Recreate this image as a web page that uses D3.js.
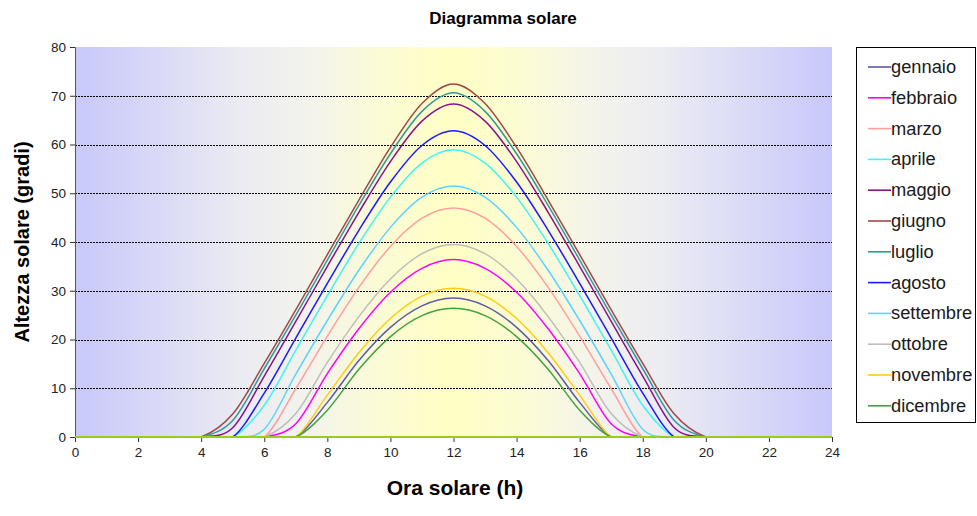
<!DOCTYPE html>
<html>
<head>
<meta charset="utf-8">
<script src="https://cdn.jsdelivr.net/npm/d3@7"></script>
<style>
  body { margin: 0; background: #fff; }
  svg { display: block; font-family: "Liberation Sans", Arial, sans-serif; }
</style>
</head>
<body>
<svg id="chart" width="977" height="516"></svg>
<script>
// Solar hour (0..24), one sample per hour
const hours = d3.range(0, 25);

const months = ["gennaio", "febbraio", "marzo", "aprile", "maggio", "giugno",
                "luglio", "agosto", "settembre", "ottobre", "novembre", "dicembre"];

const colors = ["#5c5ca3", "#ff00ff", "#ff9f9f", "#3cf5f5", "#8a128a", "#a04848",
                "#339999", "#1a1aff", "#5cd3ff", "#bdbdbd", "#ffcc11", "#44a044"];

// Solar altitude (degrees) for each hour 0..24
const gennaio   = [0,0,0,0,0,0,0,0, 7.1,15.7,22.5,26.9,28.5,26.9,22.5,15.7, 7.1,0,0,0,0,0,0,0,0];
const febbraio  = [0,0,0,0,0,0,0,2.7,13.0,22.2,29.7,34.6,36.4,34.6,29.7,22.2,13.0,2.7,0,0,0,0,0,0,0];
const marzo     = [0,0,0,0,0,0,0,9.9,20.7,30.7,39.1,44.9,47.0,44.9,39.1,30.7,20.7,9.9,0,0,0,0,0,0,0];
const aprile    = [0,0,0,0,0,0,6.5,17.8,29.0,39.7,49.2,56.2,58.9,56.2,49.2,39.7,29.0,17.8,6.5,0,0,0,0,0,0];
const maggio    = [0,0,0,0,0,1.9,12.5,23.7,35.0,46.1,56.5,64.8,68.3,64.8,56.5,46.1,35.0,23.7,12.5,1.9,0,0,0,0,0];
const giugno    = [0,0,0,0,0,4.7,15.1,26.1,37.4,48.6,59.4,68.4,72.4,68.4,59.4,48.6,37.4,26.1,15.1,4.7,0,0,0,0,0];
const luglio    = [0,0,0,0,0,3.4,14.0,25.0,36.3,47.5,58.1,66.8,70.6,66.8,58.1,47.5,36.3,25.0,14.0,3.4,0,0,0,0,0];
const agosto    = [0,0,0,0,0,0,9.0,20.3,31.5,42.4,52.3,59.8,62.8,59.8,52.3,42.4,31.5,20.3,9.0,0,0,0,0,0,0];
const settembre = [0,0,0,0,0,0,1.6,12.9,23.9,34.2,43.0,49.2,51.5,49.2,43.0,34.2,23.9,12.9,1.6,0,0,0,0,0,0];
const ottobre   = [0,0,0,0,0,0,0,4.8,15.3,24.7,32.4,37.6,39.5,37.6,32.4,24.7,15.3,4.8,0,0,0,0,0,0,0];
const novembre  = [0,0,0,0,0,0,0,0, 8.6,17.3,24.3,28.9,30.5,28.9,24.3,17.3, 8.6,0,0,0,0,0,0,0,0];
const dicembre  = [0,0,0,0,0,0,0,0, 5.5,13.9,20.6,24.9,26.4,24.9,20.6,13.9, 5.5,0,0,0,0,0,0,0,0];

const seriesValues = [gennaio, febbraio, marzo, aprile, maggio, giugno,
                      luglio, agosto, settembre, ottobre, novembre, dicembre];

const xTicks = d3.range(0, 25, 2);
const yTicks = d3.range(0, 81, 10);

const svg = d3.select("#chart");
const plot = { left: 75, top: 47, right: 832, bottom: 437 };

const x = d3.scaleLinear().domain([0, 24]).range([plot.left, plot.right]);
const y = d3.scaleLinear().domain([0, 80]).range([plot.bottom, plot.top]);

// Horizontal background gradient: lavender edges, pale yellow at noon
const defs = svg.append("defs");
const grad = defs.append("linearGradient").attr("id", "bg")
  .attr("x1", "0%").attr("x2", "100%").attr("y1", "0%").attr("y2", "0%");
[[0, "#c8c8fb"], [0.22, "#ebebf3"], [0.32, "#f4f4ea"], [0.4, "#fbfbd6"], [0.5, "#ffffc4"],
 [0.6, "#fbfbd6"], [0.68, "#f4f4ea"], [0.78, "#ebebf3"], [1, "#c8c8fb"]]
  .forEach(([o, c]) => grad.append("stop").attr("offset", o).attr("stop-color", c));

defs.append("clipPath").attr("id", "clip").append("rect")
  .attr("x", plot.left).attr("y", plot.top - 2)
  .attr("width", plot.right - plot.left).attr("height", plot.bottom - plot.top + 2);

svg.append("rect")
  .attr("x", plot.left).attr("y", plot.top)
  .attr("width", plot.right - plot.left).attr("height", plot.bottom - plot.top)
  .attr("fill", "url(#bg)");

// Dashed horizontal gridlines
svg.append("g").selectAll("line")
  .data(yTicks.filter(v => v > 0 && v < 80))
  .join("line")
  .attr("x1", plot.left).attr("x2", plot.right)
  .attr("y1", d => Math.round(y(d)) + 0.5).attr("y2", d => Math.round(y(d)) + 0.5)
  .attr("stroke", "#000").attr("stroke-width", 1).attr("stroke-dasharray", "2,1");

// Axes
const yAxis = svg.append("g")
  .attr("transform", `translate(${plot.left},0)`)
  .call(d3.axisLeft(y).tickValues(yTicks).tickSize(5).tickPadding(4));
const xAxis = svg.append("g")
  .attr("transform", `translate(0,${plot.bottom})`)
  .call(d3.axisBottom(x).tickValues(xTicks).tickSize(5).tickPadding(5));

[yAxis, xAxis].forEach(g => {
  g.selectAll("text").attr("font-size", 13.5).attr("fill", "#222")
    .attr("font-family", "'Liberation Sans', Arial, sans-serif");
  g.selectAll(".tick line").attr("stroke", "#333");
  g.select(".domain").attr("stroke", "#555");
});

// Curves
const line = d3.line()
  .x((d, i) => x(hours[i]))
  .y(d => y(d))
  .curve(d3.curveCardinal.tension(0));

svg.append("g").attr("clip-path", "url(#clip)")
  .selectAll("path")
  .data(seriesValues)
  .join("path")
  .attr("d", d => line(d))
  .attr("fill", "none")
  .attr("stroke", (d, i) => colors[i])
  .attr("stroke-width", 1.5);

// Baseline where all series rest at zero
svg.append("line")
  .attr("x1", x(0)).attr("x2", x(24))
  .attr("y1", y(0)).attr("y2", y(0))
  .attr("stroke", "#9acb1e").attr("stroke-width", 2);

// Titles
svg.append("text").attr("x", 503).attr("y", 24)
  .attr("text-anchor", "middle").attr("font-weight", "bold").attr("font-size", 17)
  .text("Diagramma solare");
svg.append("text").attr("x", 455).attr("y", 495)
  .attr("text-anchor", "middle").attr("font-weight", "bold").attr("font-size", 21)
  .text("Ora solare (h)");
svg.append("text")
  .attr("transform", `translate(29,${(plot.top + plot.bottom) / 2}) rotate(-90)`)
  .attr("text-anchor", "middle").attr("font-weight", "bold").attr("font-size", 20)
  .text("Altezza solare (gradi)");

// Legend
const legend = svg.append("g");
legend.append("rect")
  .attr("x", 856.5).attr("y", 47.5).attr("width", 119).attr("height", 375)
  .attr("fill", "#fff").attr("stroke", "#000");
const item = legend.selectAll("g.item").data(months).join("g")
  .attr("class", "item")
  .attr("transform", (d, i) => `translate(0,${67 + i * 30.8})`);
item.append("line")
  .attr("x1", 868).attr("x2", 891).attr("y1", 0).attr("y2", 0)
  .attr("stroke", (d, i) => colors[i]).attr("stroke-width", 1.6);
item.append("text")
  .attr("x", 891).attr("y", 6).attr("font-size", 18.3).attr("fill", "#1a1a1a")
  .text(d => d);
</script>
</body>
</html>
